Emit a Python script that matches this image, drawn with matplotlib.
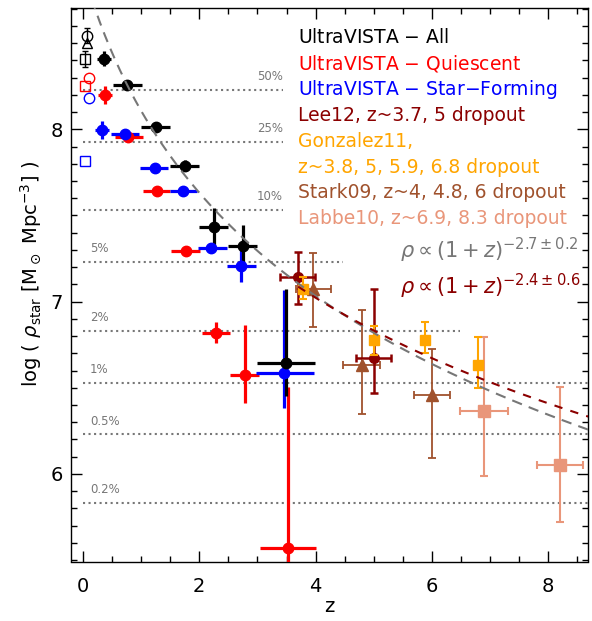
import numpy as np
import matplotlib
matplotlib.use("Agg")
import matplotlib.pyplot as plt
from matplotlib.ticker import MultipleLocator

plt.rcParams['font.family'] = ['DejaVu Sans']
plt.rcParams['mathtext.fontset'] = 'dejavusans'

# UltraVISTA - All
all_z = [0.36, 0.76, 1.25, 1.75, 2.25, 2.75, 3.49]
all_rho = [8.41, 8.257, 8.015, 7.789, 7.432, 7.323, 6.643]
all_zlo = [0.12, 0.25, 0.25, 0.25, 0.25, 0.25, 0.49]
all_zhi = [0.12, 0.25, 0.25, 0.25, 0.25, 0.25, 0.5]
all_elo = [0.042, 0.03, 0.03, 0.03, 0.11, 0.12, 0.19]
all_ehi = [0.042, 0.03, 0.03, 0.03, 0.11, 0.12, 0.43]

# UltraVISTA - Quiescent
q_z = [0.38, 0.78, 1.28, 1.77, 2.28, 2.78, 3.53]
q_rho = [8.199, 7.957, 7.644, 7.296, 6.82, 6.575, 5.573]
q_zlo = [0.12, 0.23, 0.25, 0.25, 0.24, 0.25, 0.49]
q_zhi = [0.12, 0.25, 0.22, 0.24, 0.25, 0.25, 0.48]
q_elo = [0.05, 0.02, 0.02, 0.02, 0.06, 0.165, 1.0]
q_ehi = [0.05, 0.02, 0.02, 0.02, 0.06, 0.29, 0.93]

# UltraVISTA - Star-Forming
sf_z = [0.32, 0.72, 1.23, 1.72, 2.21, 2.71, 3.46]
sf_rho = [7.996, 7.971, 7.777, 7.644, 7.31, 7.207, 6.585]
sf_zlo = [0.12, 0.24, 0.25, 0.23, 0.23, 0.23, 0.49]
sf_zhi = [0.12, 0.25, 0.24, 0.24, 0.26, 0.26, 0.51]
sf_elo = [0.05, 0.02, 0.02, 0.02, 0.03, 0.095, 0.2]
sf_ehi = [0.05, 0.02, 0.02, 0.02, 0.03, 0.095, 0.48]

# local values (open symbols)
loc_z = [0.07, 0.07, 0.03, 0.11, 0.03, 0.10, 0.04]
loc_rho = [8.543, 8.499, 8.408, 8.30, 8.251, 8.183, 7.816]
loc_err = [0.045, 0.0, 0.045, 0.0, 0.0, 0.0, 0.0]
loc_marker = ['o', '^', 's', 'o', 's', 'o', 's']
loc_color = ['black', 'black', 'black', 'red', 'red', 'blue', 'blue']

# Lee12
lee_z = [3.70, 5.0]
lee_rho = [7.145, 6.672]
lee_zlo = [0.32, 0.31]
lee_zhi = [0.29, 0.30]
lee_elo = [0.158, 0.2]
lee_ehi = [0.145, 0.4]

# Gonzalez11
gon_z = [3.79, 5.0, 5.89, 6.79]
gon_rho = [7.072, 6.778, 6.778, 6.633]
gon_elo = [0.056, 0.088, 0.078, 0.135]
gon_ehi = [0.07, 0.081, 0.106, 0.164]

# Stark09
st_z = [3.96, 4.79, 6.0]
st_rho = [7.072, 6.633, 6.459]
st_zlo = [0.29, 0.32, 0.30]
st_zhi = [0.30, 0.31, 0.32]
st_elo = [0.221, 0.284, 0.367]
st_ehi = [0.212, 0.319, 0.265]

# Labbe10
lab_z = [6.89, 8.20]
lab_rho = [6.366, 6.053]
lab_zlo = [0.40, 0.40]
lab_zhi = [0.42, 0.40]
lab_elo = [0.377, 0.329]
lab_ehi = [0.427, 0.454]

# fraction of the local density
rho_total = 8.53
fractions = [0.5, 0.25, 0.1, 0.05, 0.02, 0.01, 0.005, 0.002]
frac_labels = ['50%', '25%', '10%', '5%', '2%', '1%', '0.5%', '0.2%']
frac_zend = [3.44, 3.44, 3.44, 4.47, 6.48, 8.7, 8.7, 8.7]

# fits
fit_all_norm, fit_all_slope = 8.92, -2.7
fit_hz_norm, fit_hz_slope = 8.70, -2.4

legend_names = ['UltraVISTA $-$ All', 'UltraVISTA $-$ Quiescent',
                'UltraVISTA $-$ Star$-$Forming', 'Lee12, z~3.7, 5 dropout',
                'Gonzalez11,', 'z~3.8, 5, 5.9, 6.8 dropout',
                'Stark09, z~4, 4.8, 6 dropout', 'Labbe10, z~6.9, 8.3 dropout']
legend_colors = ['black', 'red', 'blue', '#8B0000', 'orange', 'orange',
                 '#A0522D', '#E9967A']

GRAY = '#777777'

fig = plt.figure(figsize=(5.92, 6.21), dpi=100)
ax = fig.add_axes([71/592, 1-561.5/621, (588.3-71)/592, (561.5-8.3)/621])

# percent lines
for f, lab, ze in zip(fractions, frac_labels, frac_zend):
    yv = rho_total + np.log10(f)
    ax.plot([0.0, ze], [yv, yv], ls=':', color=GRAY, lw=1.5, zorder=1)
    if f >= 0.1:
        ax.text(ze, yv + 0.04, lab, color=GRAY, fontsize=8.5, ha='right', va='bottom')
    else:
        ax.text(0.12, yv + 0.04, lab, color=GRAY, fontsize=8.5, ha='left', va='bottom')

# local values
for zz, rr, ee, mk, cc in zip(loc_z, loc_rho, loc_err, loc_marker, loc_color):
    ax.errorbar(zz, rr, yerr=ee if ee > 0 else None, fmt=mk, mfc='none', mec=cc,
                ecolor=cc, ms=7.5, mew=1.0, elinewidth=1.0, capsize=2.5, zorder=3)

uv_kw = dict(fmt='o', ms=7.5, elinewidth=2.3, capsize=0, zorder=4)
ax.errorbar(q_z, q_rho, xerr=[q_zlo, q_zhi], yerr=[q_elo, q_ehi], color='red', **uv_kw)
ax.errorbar(sf_z, sf_rho, xerr=[sf_zlo, sf_zhi], yerr=[sf_elo, sf_ehi], color='blue', **uv_kw)
ax.errorbar(all_z, all_rho, xerr=[all_zlo, all_zhi], yerr=[all_elo, all_ehi], color='black', **uv_kw)

ax.errorbar(st_z, st_rho, xerr=[st_zlo, st_zhi], yerr=[st_elo, st_ehi], fmt='^',
            color='#A0522D', ms=8, elinewidth=1.3, capsize=3, capthick=1.3, zorder=5)
ax.errorbar(lee_z, lee_rho, xerr=[lee_zlo, lee_zhi], yerr=[lee_elo, lee_ehi], fmt='o',
            color='#8B0000', ms=7, elinewidth=1.8, capsize=3, capthick=1.8, zorder=5)
ax.errorbar(gon_z, gon_rho, yerr=[gon_elo, gon_ehi], fmt='s',
            color='orange', ms=7.5, elinewidth=1.5, capsize=3, capthick=1.5, zorder=6)
ax.errorbar(lab_z, lab_rho, xerr=[lab_zlo, lab_zhi], yerr=[lab_elo, lab_ehi], fmt='s',
            color='#E9967A', ms=8, elinewidth=1.5, capsize=3, capthick=1.5, zorder=5)

# fits
zz = np.linspace(0.0, 8.7, 300)
ax.plot(zz, fit_all_norm + fit_all_slope*np.log10(1+zz), color=GRAY, lw=1.5,
        dashes=(5, 3.5), zorder=7)
zz2 = np.linspace(3.7, 8.7, 200)
ax.plot(zz2, fit_hz_norm + fit_hz_slope*np.log10(1+zz2), color='#8B0000', lw=1.5,
        dashes=(4, 4), zorder=7)

ax.text(5.45, 7.3, r'$\rho\propto\left(1+z\right)^{-2.7\pm0.2}$', color=GRAY,
        fontsize=15, ha='left', va='center')
ax.text(5.45, 7.09, r'$\rho\propto\left(1+z\right)^{-2.4\pm0.6}$', color='#8B0000',
        fontsize=15, ha='left', va='center')

# legend as coloured text
for i, (name, col) in enumerate(zip(legend_names, legend_colors)):
    ypx = 37.3 + 25.95*i
    ax.text(0.4394, (561.5 - ypx)/553.2, name, color=col, fontsize=13.5,
            ha='left', va='center', transform=ax.transAxes)

ax.set_xlim(-0.206, 8.69)
ax.set_ylim(5.492, 8.702)
ax.xaxis.set_major_locator(MultipleLocator(2))
ax.xaxis.set_minor_locator(MultipleLocator(0.5))
ax.yaxis.set_major_locator(MultipleLocator(1))
ax.yaxis.set_minor_locator(MultipleLocator(0.1))
ax.tick_params(which='both', direction='in', top=True, right=True, width=1.0,
               labelsize=14)
ax.tick_params(which='major', length=8)
ax.tick_params(which='minor', length=4.5)
ax.tick_params(axis='x', pad=11)
ax.tick_params(axis='y', pad=6)
for s in ax.spines.values():
    s.set_linewidth(1.0)

ax.set_xlabel('z', fontsize=14)
ax.set_ylabel(r'log ( $\rho_{\rm star}$ [M$_\odot$ Mpc$^{-3}$] )', fontsize=14)
ax.xaxis.set_label_coords(0.5, -0.064)
ax.yaxis.set_label_coords(-0.052, 0.52)

fig.savefig('out.png', dpi=100)
